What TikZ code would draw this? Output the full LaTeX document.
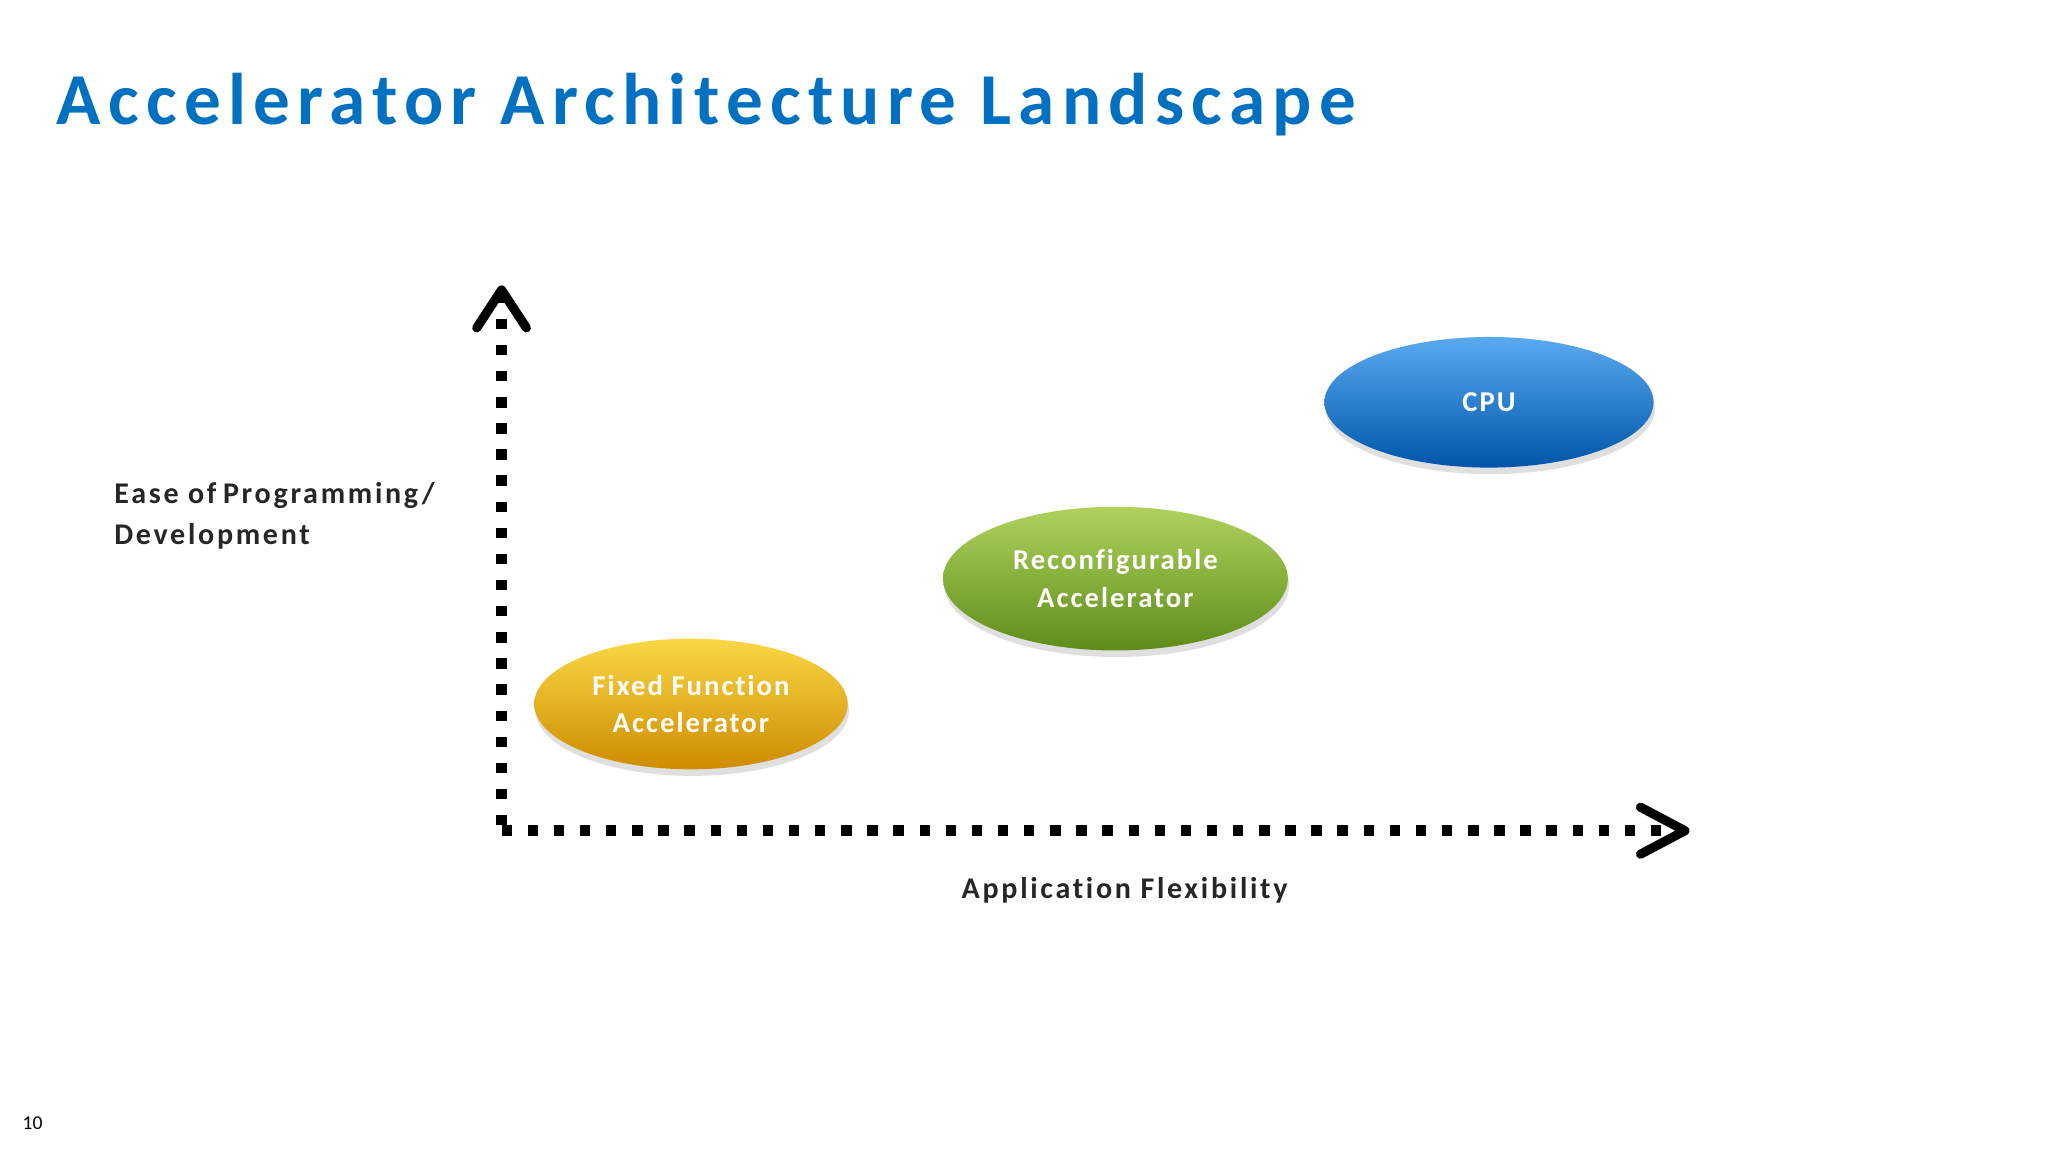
\documentclass[tikz,border=0pt]{standalone}
\usepackage{fontspec}
\setmainfont{Carlito}[Ligatures=NoCommon]
\usetikzlibrary{shapes.geometric,shadows,arrows.meta}
\definecolor{titleblue}{RGB}{0,112,192}
\definecolor{bt}{RGB}{90,170,240}\definecolor{bm}{RGB}{20,120,210}\definecolor{bb}{RGB}{0,85,170}
\definecolor{gt}{RGB}{175,210,95}\definecolor{gm}{RGB}{130,175,50}\definecolor{gb}{RGB}{95,140,25}
\definecolor{ot}{RGB}{250,215,70}\definecolor{om}{RGB}{235,175,20}\definecolor{ob}{RGB}{205,140,0}
\tikzset{
  x=1pt,y=-1pt,
  ax/.style={line width=8pt,dash pattern=on 8pt off 12pt},
  tip/.style={line width=7pt,line cap=round,line join=round},
  blob/.style={ellipse,draw=none,text=white,font=\bfseries\fontsize{22}{29}\addfontfeatures{LetterSpace=7}\selectfont,align=center,
    drop shadow={shadow xshift=1pt,shadow yshift=-5pt,opacity=0.25,fill=black!50}},
  lbl/.style={font=\bfseries\fontsize{23}{31}\addfontfeatures{LetterSpace=9}\selectfont,text=black!85,align=left}
}
\begin{document}
\begin{tikzpicture}
\useasboundingbox[fill=white] (0,0) rectangle (1568,882);
\node[anchor=base west,text=titleblue,font=\bfseries\fontsize{56}{60}\addfontfeatures{LetterSpace=10}\selectfont] (title) at (40,95) {Accelerator Architecture Landscape};
\coordinate (o) at (384,636);
\coordinate (yt) at (384,222);
\coordinate (xe) at (1290,636);
\draw[ax] (384,632) -- (yt);
\draw[ax] (o) -- (xe);
\draw[tip] (365,251) -- (yt) -- (403,251);
\draw[tip] (1256,618) -- (xe) -- (1256,654);
\node[blob,minimum width=252pt,minimum height=100pt,top color=bt,middle color=bm,bottom color=bb] (cpu) at (1140,308) {CPU};
\node[blob,minimum width=264pt,minimum height=110pt,top color=gt,middle color=gm,bottom color=gb] (rec) at (854,443) {Reconfigurable\\Accelerator};
\node[blob,minimum width=240pt,minimum height=100pt,top color=ot,middle color=om,bottom color=ob] (ff) at (529,539) {Fixed Function\\Accelerator};
\node[lbl,anchor=north west] (ease) at (84,366) {Ease of\hspace{5pt}Programming/\\Development};
\node[lbl,anchor=center] (app) at (861,682) {Application Flexibility};
\node[anchor=center,font=\fontsize{15}{18}\selectfont] (pg) at (25,860) {10};
\end{tikzpicture}
\end{document}
